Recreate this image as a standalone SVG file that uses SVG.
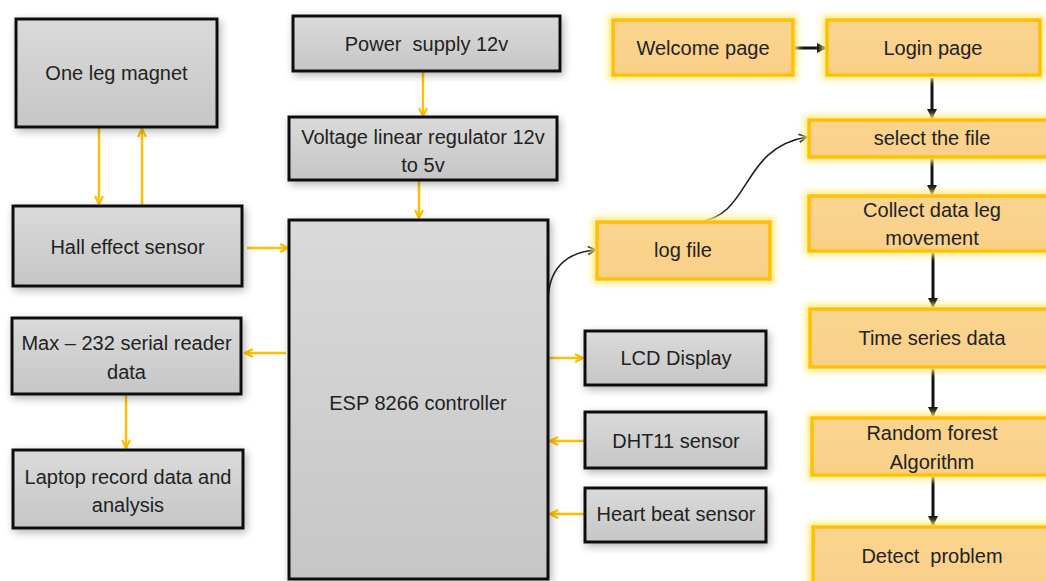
<svg xmlns="http://www.w3.org/2000/svg" width="1046" height="581" viewBox="0 0 1046 581">
<style>
.g{fill:url(#gg);stroke:#111;stroke-width:3;filter:url(#sh)}
.o{fill:url(#og);stroke:#FFC000;stroke-width:3.5;filter:url(#gl)}
.t{font-family:"Liberation Sans",Arial,sans-serif;font-size:20px;fill:#222;text-anchor:middle}
.oc{fill:none;stroke:#FFC000;stroke-width:2.5;marker-end:url(#oa)}
.bc{fill:none;stroke:#111;stroke-width:3;marker-end:url(#ba)}
.cc{fill:none;stroke:#222;stroke-width:1.6;marker-end:url(#ca)}
</style>
<defs>
<linearGradient id="gg" x1="0" y1="0" x2="0" y2="1"><stop offset="0" stop-color="#DADADA"/><stop offset="1" stop-color="#C6C6C6"/></linearGradient>
<linearGradient id="og" x1="0" y1="0" x2="0" y2="1"><stop offset="0" stop-color="#FAD48E"/><stop offset="1" stop-color="#F9D08A"/></linearGradient>
<filter id="sh" x="-20%" y="-20%" width="140%" height="140%"><feGaussianBlur in="SourceAlpha" stdDeviation="4"/><feOffset dx="2" dy="3"/><feComponentTransfer><feFuncA type="linear" slope="0.3"/></feComponentTransfer><feMerge><feMergeNode/><feMergeNode in="SourceGraphic"/></feMerge></filter>
<filter id="gl" x="-20%" y="-30%" width="140%" height="160%"><feMorphology in="SourceAlpha" operator="dilate" radius="3" result="d"/><feGaussianBlur in="d" stdDeviation="3" result="b"/><feFlood flood-color="#FFEB80"/><feComposite in2="b" operator="in"/><feMerge><feMergeNode/><feMergeNode in="SourceGraphic"/></feMerge></filter>
<marker id="oa" viewBox="0 0 10 10" refX="9" refY="5" markerWidth="10" markerHeight="10" markerUnits="userSpaceOnUse" orient="auto"><path d="M1,1 L9,5 L1,9" fill="none" stroke="#FFC000" stroke-width="2.2"/></marker>
<marker id="ba" viewBox="0 0 10 10" refX="9" refY="5" markerWidth="10" markerHeight="10" markerUnits="userSpaceOnUse" orient="auto"><path d="M0,0 L10,5 L0,10 Z" fill="#111"/></marker>
<marker id="ca" viewBox="0 0 10 10" refX="9" refY="5" markerWidth="10" markerHeight="10" markerUnits="userSpaceOnUse" orient="auto"><path d="M1,1 L9,5 L1,9" fill="none" stroke="#222" stroke-width="1.6"/></marker>
</defs>
<rect width="1046" height="581" fill="#fff"/>
<g id="connectors">
<path class="oc" d="M99,128 L99,204"/>
<path class="oc" d="M142,205 L142,129"/>
<path class="oc" d="M247,248 L288,248"/>
<path class="oc" d="M423,72 L423,116"/>
<path class="oc" d="M419,181 L419,218"/>
<path class="oc" d="M286,353 L245,353"/>
<path class="oc" d="M126,395 L126,448"/>
<path class="oc" d="M549,358 L583,358"/>
<path class="oc" d="M584,441 L550,441"/>
<path class="oc" d="M584,514 L550,514"/>
<path class="cc" d="M548,302 C548,270 565,252 596,250"/>
<path class="cc" d="M698,222 C752,216 740,148 807,137"/>
<path class="bc" d="M793,48 L826,48"/>
<path class="bc" d="M932,78 L932,118"/>
<path class="bc" d="M932,159 L932,194"/>
<path class="bc" d="M933,253 L933,307"/>
<path class="bc" d="M933,369 L933,416"/>
<path class="bc" d="M933,477 L933,525"/>
</g>
<g id="magnet"><rect class="g" x="16" y="19" width="201" height="108"/><text class="t" x="116.5" y="80">One leg magnet</text></g>
<g id="hall"><rect class="g" x="13" y="206" width="229" height="80"/><text class="t" x="127.5" y="254">Hall effect sensor</text></g>
<g id="max"><rect class="g" x="12" y="318" width="229" height="76"/><text class="t" x="126.5" y="350">Max – 232 serial reader</text><text class="t" x="126.5" y="379">data</text></g>
<g id="laptop"><rect class="g" x="13" y="450" width="230" height="78"/><text class="t" x="128" y="484">Laptop record data and</text><text class="t" x="128" y="512">analysis</text></g>
<g id="power"><rect class="g" x="293" y="16" width="267" height="55"/><text class="t" x="426.5" y="51" xml:space="preserve">Power  supply 12v</text></g>
<g id="regulator"><rect class="g" x="289" y="117" width="268" height="63"/><text class="t" x="423" y="144">Voltage linear regulator 12v</text><text class="t" x="423" y="172">to 5v</text></g>
<g id="esp"><rect class="g" x="289" y="220" width="259" height="359"/><text class="t" x="418" y="410">ESP 8266 controller</text></g>
<g id="lcd"><rect class="g" x="585" y="331" width="181" height="54"/><text class="t" x="676" y="365">LCD Display</text></g>
<g id="dht"><rect class="g" x="585" y="412" width="181" height="56"/><text class="t" x="676" y="448">DHT11 sensor</text></g>
<g id="heart"><rect class="g" x="585" y="488" width="181" height="54"/><text class="t" x="676" y="521">Heart beat sensor</text></g>
<g id="logfile"><rect class="o" x="597" y="222" width="173" height="57"/><text class="t" x="683" y="257">log file</text></g>
<g id="welcome"><rect class="o" x="613" y="20" width="180" height="55"/><text class="t" x="703" y="55">Welcome page</text></g>
<g id="login"><rect class="o" x="827" y="20" width="213" height="55"/><text class="t" x="933" y="55">Login page</text></g>
<g id="select"><rect class="o" x="809" y="120" width="240" height="37"/><text class="t" x="932" y="145">select the file</text></g>
<g id="collect"><rect class="o" x="809" y="196" width="240" height="55"/><text class="t" x="932" y="217">Collect data leg</text><text class="t" x="932" y="245">movement</text></g>
<g id="timeseries"><rect class="o" x="810" y="309" width="240" height="58"/><text class="t" x="932" y="345">Time series data</text></g>
<g id="randomforest"><rect class="o" x="812" y="418" width="240" height="57"/><text class="t" x="932" y="440">Random forest</text><text class="t" x="932" y="469">Algorithm</text></g>
<g id="detect"><rect class="o" x="813" y="527" width="240" height="60"/><text class="t" x="932" y="563" xml:space="preserve">Detect  problem</text></g>
</svg>
